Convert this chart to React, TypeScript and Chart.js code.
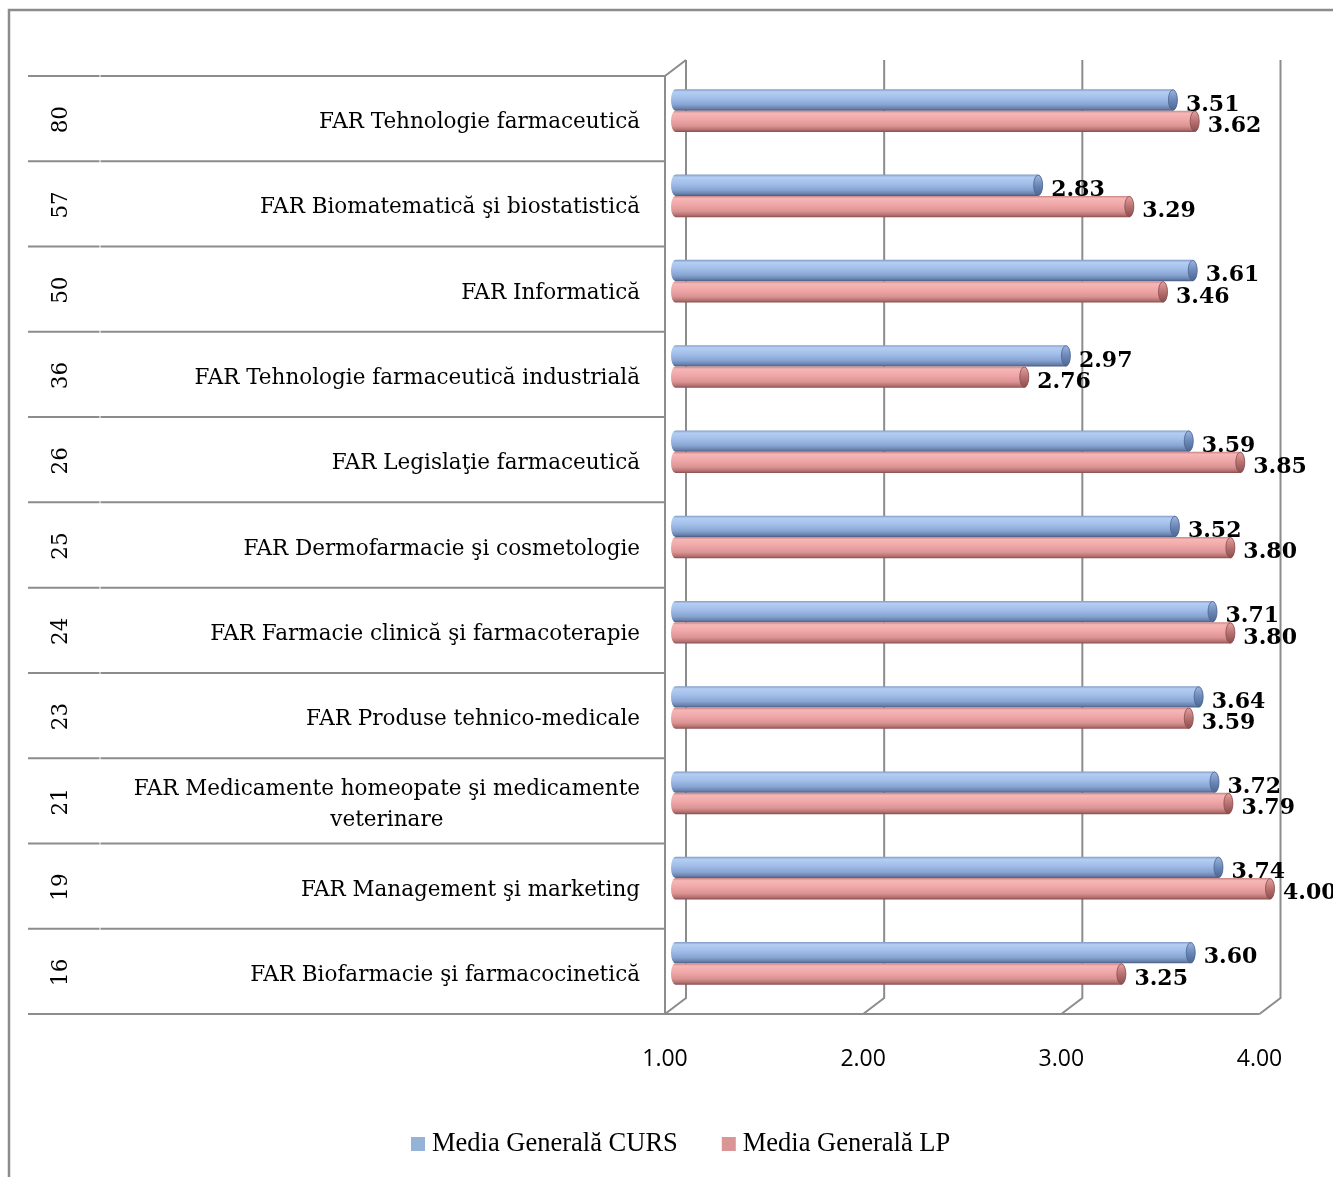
import React, { useEffect, useRef } from 'react';
import { Chart, registerables } from 'chart.js';

Chart.register(...registerables);

// ---- data ----
const CATEGORY_NUMBERS = ['80', '57', '50', '36', '26', '25', '24', '23', '21', '19', '16'];
const CATEGORY_NAMES = [
  'FAR Tehnologie farmaceutică',
  'FAR Biomatematică şi biostatistică',
  'FAR Informatică',
  'FAR Tehnologie farmaceutică industrială',
  'FAR Legislaţie farmaceutică',
  'FAR Dermofarmacie şi cosmetologie',
  'FAR Farmacie clinică şi farmacoterapie',
  'FAR Produse tehnico-medicale',
  'FAR Medicamente homeopate şi medicamente\nveterinare',
  'FAR Management şi marketing',
  'FAR Biofarmacie şi farmacocinetică',
];
const MEDIA_CURS = [3.51, 2.83, 3.61, 2.97, 3.59, 3.52, 3.71, 3.64, 3.72, 3.74, 3.6];
const MEDIA_LP = [3.62, 3.29, 3.46, 2.76, 3.85, 3.8, 3.8, 3.59, 3.79, 4.0, 3.25];
const X_TICKS = [1, 2, 3, 4];
const SERIES_NAMES = ['Media Generală CURS', 'Media Generală LP'];

// ---- styles ----
const W = 1333;
const H = 1177;
const DX = 10.5;
const DY = 8;
const GREY = '#8c8c8c';
const LEGEND_COLORS = ['#95b3d7', '#d99694'];
const BAR_STOPS = [
  [
    [0, '#7f9bc8'],
    [0.12, '#b4cef2'],
    [0.4, '#a3bfea'],
    [0.72, '#88a4d2'],
    [0.9, '#6882ad'],
    [1, '#4a5c80'],
  ],
  [
    [0, '#c98383'],
    [0.12, '#f6b7b7'],
    [0.4, '#f0a8a8'],
    [0.72, '#dc9393'],
    [0.9, '#b47171'],
    [1, '#864d4d'],
  ],
];
const CAP_COLORS = [
  ['#9db8e2', '#6c88b8', '#4c6590'],
  ['#e9a2a2', '#b87272', '#8a4c4c'],
];

function drawCylinder(ctx, x0, x1, yc, h, d) {
  const top = yc - h / 2;
  const bot = yc + h / 2;
  const rx = 4.5;
  const ry = h / 2;
  const g = ctx.createLinearGradient(0, top, 0, bot);
  BAR_STOPS[d].forEach(([o, c]) => g.addColorStop(o, c));
  ctx.beginPath();
  ctx.moveTo(x0, top);
  ctx.lineTo(x1, top);
  ctx.ellipse(x1, yc, rx, ry, 0, -Math.PI / 2, Math.PI / 2, false);
  ctx.lineTo(x0, bot);
  ctx.ellipse(x0, yc, rx, ry, 0, Math.PI / 2, (3 * Math.PI) / 2, false);
  ctx.closePath();
  ctx.fillStyle = g;
  ctx.fill();
  // end cap
  const cg = ctx.createLinearGradient(0, top, 0, bot);
  cg.addColorStop(0, CAP_COLORS[d][0]);
  cg.addColorStop(0.5, CAP_COLORS[d][1]);
  cg.addColorStop(1, CAP_COLORS[d][2]);
  ctx.beginPath();
  ctx.ellipse(x1, yc, rx, ry - 0.5, 0, 0, Math.PI * 2);
  ctx.fillStyle = cg;
  ctx.fill();
  ctx.lineWidth = 0.8;
  ctx.strokeStyle = CAP_COLORS[d][2];
  ctx.stroke();
}

const decorPlugin = {
  id: 'decor3d',
  beforeDatasetsDraw(chart) {
    const ctx = chart.ctx;
    const xs = chart.scales.x;
    const ys = chart.scales.y;
    const ca = chart.chartArea;
    ctx.save();

    // outer frame
    ctx.strokeStyle = GREY;
    ctx.lineWidth = 2.5;
    ctx.beginPath();
    ctx.moveTo(9, H + 5);
    ctx.lineTo(9, 10);
    ctx.lineTo(W + 5, 10);
    ctx.stroke();

    ctx.lineWidth = 2;
    // back gridlines with floor diagonals
    X_TICKS.forEach((v) => {
      const xm = xs.getPixelForValue(v);
      ctx.beginPath();
      ctx.moveTo(xm + DX, ca.top - DY);
      ctx.lineTo(xm + DX, ca.bottom - DY);
      ctx.lineTo(xm - DX, ca.bottom + DY);
      ctx.stroke();
    });
    const xl = xs.getPixelForValue(X_TICKS[0]) - DX;
    const xr = xs.getPixelForValue(X_TICKS[X_TICKS.length - 1]) - DX;
    // left wall front edge
    ctx.beginPath();
    ctx.moveTo(xl + 2 * DX, ca.top - DY);
    ctx.lineTo(xl, ca.top + DY);
    ctx.lineTo(xl, ca.bottom + DY);
    ctx.stroke();
    // floor front line
    ctx.beginPath();
    ctx.moveTo(28, ca.bottom + DY);
    ctx.lineTo(xr, ca.bottom + DY);
    ctx.stroke();

    // table rows
    const n = chart.data.labels.length;
    for (let i = 0; i < n; i++) {
      let y;
      if (i === 0) y = ca.top;
      else y = (ys.getPixelForValue(i - 1) + ys.getPixelForValue(i)) / 2;
      const yf = y + DY;
      ctx.beginPath();
      ctx.moveTo(28, yf);
      ctx.lineTo(99.5, yf);
      ctx.moveTo(100.5, yf);
      ctx.lineTo(xl, yf);
      ctx.stroke();
    }

    // category texts
    ctx.fillStyle = '#000';
    ctx.font = '21.5px "DejaVu Serif"';
    ctx.textBaseline = 'middle';
    for (let i = 0; i < n; i++) {
      const yc = ys.getPixelForValue(i) + DY + 4;
      const lines = String(CATEGORY_NAMES[i]).split('\n');
      const widths = lines.map((l) => ctx.measureText(l).width);
      const bw = Math.max(...widths);
      const right = 640;
      const lh = 31;
      lines.forEach((l, k) => {
        ctx.textAlign = 'center';
        ctx.fillText(l, right - bw / 2, yc + (k - (lines.length - 1) / 2) * lh);
      });
      ctx.save();
      ctx.translate(61, yc - 3);
      ctx.rotate(-Math.PI / 2);
      ctx.textAlign = 'center';
      ctx.fillText(CATEGORY_NUMBERS[i], 0, 0);
      ctx.restore();
    }

    // x tick labels (front plane)
    ctx.font = '23px "Open Sans"';
    ctx.textAlign = 'center';
    X_TICKS.forEach((v) => {
      ctx.fillText(v.toFixed(2), xs.getPixelForValue(v) - DX, 1059);
    });

    // bars
    chart.data.datasets.forEach((ds, d) => {
      const meta = chart.getDatasetMeta(d);
      meta.data.forEach((el) => {
        const p = el.getProps(['x', 'y', 'base', 'height'], true);
        const b = Math.max(p.base, ca.left);
        drawCylinder(ctx, b, p.x, p.y, Math.abs(p.height), d);
      });
    });

    // value labels
    ctx.font = 'bold 22px "DejaVu Serif"';
    ctx.textAlign = 'left';
    ctx.fillStyle = '#000';
    chart.data.datasets.forEach((ds, d) => {
      const meta = chart.getDatasetMeta(d);
      meta.data.forEach((el, i) => {
        const p = el.getProps(['x', 'y'], true);
        ctx.fillText(Number(ds.data[i]).toFixed(2), p.x + 13, p.y + 5);
      });
    });

    // legend
    ctx.font = '26.5px "Liberation Serif"';
    ctx.textBaseline = 'middle';
    let lx = 411;
    chart.data.datasets.forEach((ds, d) => {
      ctx.fillStyle = LEGEND_COLORS[d];
      ctx.fillRect(lx, 1137, 14, 14);
      ctx.fillStyle = '#000';
      ctx.fillText(ds.label, lx + 21, 1144);
      lx += 21 + ctx.measureText(ds.label).width + 44;
    });

    ctx.restore();
    return false;
  },
};

export default function App() {
  const ref = useRef(null);
  useEffect(() => {
    document.body.style.margin = '0';
    document.body.style.overflow = 'hidden';
    const chart = new Chart(ref.current, {
      type: 'bar',
      data: {
        labels: CATEGORY_NAMES,
        datasets: [
          { label: SERIES_NAMES[0], data: MEDIA_CURS, backgroundColor: LEGEND_COLORS[0], base: 1 },
          { label: SERIES_NAMES[1], data: MEDIA_LP, backgroundColor: LEGEND_COLORS[1], base: 1 },
        ],
      },
      options: {
        indexAxis: 'y',
        responsive: false,
        devicePixelRatio: 1,
        animation: false,
        layout: { padding: { left: 675.5, right: 63, top: 68, bottom: 171 } },
        datasets: { bar: { categoryPercentage: 0.5, barPercentage: 1 } },
        scales: {
          x: { type: 'linear', min: 1, max: 4, display: false, ticks: { stepSize: 1 } },
          y: { type: 'category', display: false },
        },
        plugins: {
          legend: { display: false },
          title: { display: false },
          tooltip: { enabled: false },
        },
      },
      plugins: [decorPlugin],
    });
    return () => chart.destroy();
  }, []);
  return <canvas ref={ref} width={W} height={H} style={{ display: 'block' }} />;
}
